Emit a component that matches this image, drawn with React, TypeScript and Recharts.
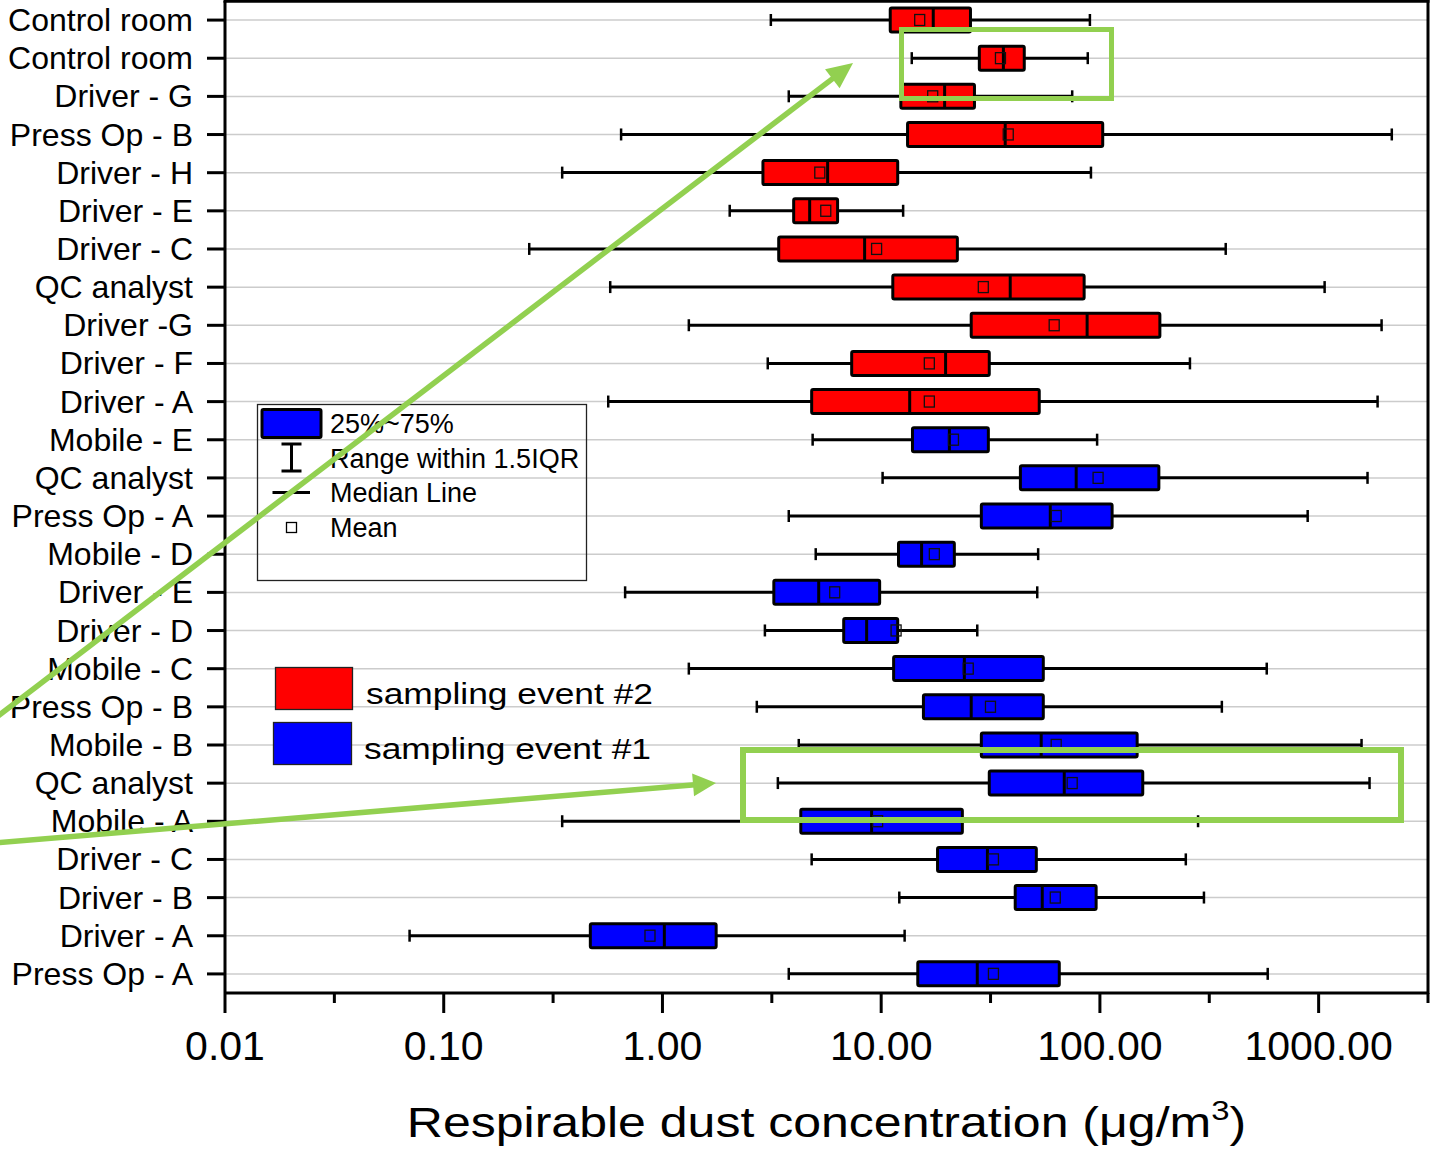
import React from 'react';
import { ComposedChart, Bar, XAxis, YAxis, CartesianGrid } from 'recharts';

// ---------- data (top row first) ----------
const categories = [
  'Control room', 'Control room', 'Driver - G', 'Press Op - B', 'Driver - H', 'Driver - E',
  'Driver - C', 'QC analyst', 'Driver -G', 'Driver - F', 'Driver - A', 'Mobile - E',
  'QC analyst', 'Press Op - A', 'Mobile - D', 'Driver - E', 'Driver - D', 'Mobile - C',
  'Press Op - B', 'Mobile - B', 'QC analyst', 'Mobile - A', 'Driver - C', 'Driver - B',
  'Driver - A', 'Press Op - A',
];
const samplingEvent = [2, 2, 2, 2, 2, 2, 2, 2, 2, 2, 2, 1, 1, 1, 1, 1, 1, 1, 1, 1, 1, 1, 1, 1, 1, 1];
const whiskerLow = [3.13, 13.8, 3.78, 0.647, 0.348, 2.03, 0.246, 0.577, 1.32, 3.03, 0.565, 4.86, 10.15, 3.78, 5.02, 0.675, 2.94, 1.32, 2.7, 4.2, 3.37, 0.348, 4.81, 12.1, 0.0698, 3.78];
const q1 = [11.0, 28.1, 12.3, 13.2, 2.88, 3.98, 3.4, 11.3, 25.8, 7.33, 4.81, 13.9, 43.3, 28.7, 12.0, 3.23, 6.74, 11.4, 15.6, 28.7, 31.2, 4.29, 18.1, 41.0, 0.468, 14.7];
const median = [17.3, 36.2, 19.5, 36.9, 5.69, 4.71, 8.4, 38.9, 87.4, 19.7, 13.5, 20.5, 77.9, 59.3, 15.3, 5.18, 8.58, 24.0, 25.8, 53.9, 68.7, 9.04, 30.6, 54.5, 1.02, 27.5];
const q3 = [25.6, 45.1, 26.7, 103, 11.9, 6.32, 22.3, 84.7, 188, 31.2, 52.8, 30.9, 186, 113.7, 21.6, 9.84, 11.9, 55.1, 55.1, 148, 157, 23.5, 51.2, 96.1, 1.76, 65.2];
const whiskerHigh = [90, 88, 74.7, 2160, 91, 12.6, 376, 1065, 1940, 258, 1860, 97.1, 1673, 891, 52.2, 51.7, 27.5, 579, 361, 1571, 1709, 281, 247, 299, 12.8, 585];
const mean = [15.0, 35.1, 17.2, 38.1, 5.24, 5.58, 9.53, 29.3, 61.8, 16.6, 16.6, 21.4, 98.1, 63.1, 17.5, 6.13, 11.7, 25.0, 31.6, 63.1, 74.7, 9.63, 32.6, 62.5, 0.877, 32.6];

const X_MIN = 0.01;
const X_MAX = 3162.2777;
const xTicks = [0.01, 0.0316228, 0.1, 0.316228, 1, 3.16228, 10, 31.6228, 100, 316.228, 1000, 3162.2777];
const xTickLabels = ['0.01', '', '0.10', '', '1.00', '', '10.00', '', '100.00', '', '1000.00', ''];

const eventColors: Record<number, string> = { 1: '#0000FF', 2: '#FF0000' };
const FONT = '"Liberation Sans", Arial, Helvetica, sans-serif';
const GREEN = '#92D050';

const data = categories.map((c, i) => ({
  id: `r${i}`,
  label: c,
  event: samplingEvent[i],
  range: [whiskerLow[i], whiskerHigh[i]],
  lo: whiskerLow[i],
  hi: whiskerHigh[i],
  q1: q1[i],
  median: median[i],
  q3: q3[i],
  mean: mean[i],
}));

// ---------- custom shapes ----------
const BoxShape = (props: any) => {
  const { x, y, width, height, payload } = props;
  if (x == null || y == null || width == null || !payload) return null;
  const l0 = Math.log10(payload.lo);
  const l1 = Math.log10(payload.hi);
  const pos = (v: number) => x + (width * (Math.log10(v) - l0)) / (l1 - l0);
  const cy = y + height / 2;
  const fill = eventColors[payload.event];
  const xq1 = pos(payload.q1);
  const xq3 = pos(payload.q3);
  const xmed = pos(payload.median);
  const xmean = pos(payload.mean);
  return (
    <g>
      <line x1={x} x2={x + width} y1={cy} y2={cy} stroke="#000" strokeWidth={3} />
      <line x1={x} x2={x} y1={cy - 6} y2={cy + 6} stroke="#000" strokeWidth={2.5} />
      <line x1={x + width} x2={x + width} y1={cy - 6} y2={cy + 6} stroke="#000" strokeWidth={2.5} />
      <rect x={xq1} y={y} width={xq3 - xq1} height={height} fill={fill} stroke="#000" strokeWidth={3} rx={1.5} />
      <line x1={xmed} x2={xmed} y1={y} y2={y + height} stroke="#000" strokeWidth={3} />
      <rect x={xmean - 5} y={cy - 5.5} width={10} height={11} fill="none" stroke="#111" strokeWidth={1.3} />
    </g>
  );
};

const XTick = (props: any) => {
  const { x, y, payload } = props;
  const v = payload.value;
  let idx = xTicks.findIndex((t) => Math.abs(Math.log10(t) - Math.log10(v)) < 1e-4);
  if (idx < 0) idx = 1;
  const major = idx % 2 === 0;
  return (
    <g>
      <line x1={x} x2={x} y1={y} y2={y + (major ? 20 : 10)} stroke="#000" strokeWidth={3} />
      {major && (
        <text x={x} y={y + 67} textAnchor="middle" fontSize={41} fontFamily={FONT} fill="#000">
          {xTickLabels[idx]}
        </text>
      )}
    </g>
  );
};

const YTick = (props: any) => {
  const { x, y, index } = props;
  return (
    <text x={x} y={y} dy={11} textAnchor="end" fontSize={32} fontFamily={FONT} fill="#000">
      {categories[index]}
    </text>
  );
};

const TitleLabel = (props: any) => {
  const vb = props.viewBox || { x: 225, y: 993, width: 1203, height: 161 };
  const cx = vb.x + vb.width / 2;
  const by = vb.y + 144;
  return (
    <g transform={`translate(${cx},${by}) scale(1.22,1.04)`}>
      <text x={0} y={0} textAnchor="middle" fontSize={41} fontFamily={FONT} fill="#000">
        Respirable dust concentration (μg/m
        <tspan fontSize={27} dy={-16}>3</tspan>
        <tspan dy={16}>)</tspan>
      </text>
    </g>
  );
};

// ---------- overlay: frame, legends + annotation arrows ----------
const arrow = (x1: number, y1: number, tx: number, ty: number, len: number, w: number, sw: number) => {
  const dx = tx - x1;
  const dy = ty - y1;
  const d = Math.hypot(dx, dy);
  const ux = dx / d;
  const uy = dy / d;
  const bx = tx - ux * len;
  const by = ty - uy * len;
  const nx = -uy;
  const ny = ux;
  const pts = `${tx},${ty} ${bx + (nx * w) / 2},${by + (ny * w) / 2} ${bx - (nx * w) / 2},${by - (ny * w) / 2}`;
  return (
    <g>
      <line x1={x1} y1={y1} x2={bx + ux * 2} y2={by + uy * 2} stroke={GREEN} strokeWidth={sw} />
      <polygon points={pts} fill={GREEN} />
    </g>
  );
};

const Overlay = () => (
  <svg
    width={1435}
    height={1154}
    style={{ position: 'absolute', left: 0, top: 0, pointerEvents: 'none' }}
  >
    {/* plot frame: top and right edges */}
    <line x1={223.5} x2={1429.5} y1={1.3} y2={1.3} stroke="#000" strokeWidth={3} />
    <line x1={1428} x2={1428} y1={0} y2={994} stroke="#000" strokeWidth={3} />

    {/* statistic legend */}
    <rect x={257.5} y={404.5} width={329} height={176} fill="none" stroke="#222" strokeWidth={1.3} />
    <rect x={262} y={409.5} width={59} height={28} fill="#0000FF" stroke="#000" strokeWidth={3} rx={1.5} />
    <text x={330} y={433} fontSize={27} fontFamily={FONT} fill="#000">25%~75%</text>
    <line x1={291.5} x2={291.5} y1={443} y2={472} stroke="#000" strokeWidth={3} />
    <line x1={281.5} x2={301.5} y1={444} y2={444} stroke="#000" strokeWidth={3} />
    <line x1={281.5} x2={301.5} y1={471} y2={471} stroke="#000" strokeWidth={3} />
    <text x={330} y={467.5} fontSize={27} fontFamily={FONT} fill="#000">Range within 1.5IQR</text>
    <line x1={272.5} x2={310} y1={492.5} y2={492.5} stroke="#000" strokeWidth={3} />
    <text x={330} y={502} fontSize={27} fontFamily={FONT} fill="#000">Median Line</text>
    <rect x={286.5} y={522.5} width={10} height={10} fill="#fff" stroke="#000" strokeWidth={1.3} />
    <text x={330} y={537} fontSize={27} fontFamily={FONT} fill="#000">Mean</text>

    {/* event legend */}
    <rect x={275.5} y={667.5} width={77} height={42} fill="#FF0000" stroke="#222" strokeWidth={1.3} />
    <g transform="translate(366,703.5) scale(1.22,1.04)">
      <text x={0} y={0} fontSize={29} fontFamily={FONT} fill="#000">sampling event #2</text>
    </g>
    <rect x={273.5} y={722.5} width={78} height={42} fill="#0000FF" stroke="#222" strokeWidth={1.3} />
    <g transform="translate(364,758.5) scale(1.22,1.04)">
      <text x={0} y={0} fontSize={29} fontFamily={FONT} fill="#000">sampling event #1</text>
    </g>

    {/* annotations */}
    <rect x={901.5} y={29.5} width={210} height={69} fill="none" stroke={GREEN} strokeWidth={5} />
    <rect x={743} y={750} width={658} height={70} fill="none" stroke={GREEN} strokeWidth={6} />
    {arrow(-6, 719, 853, 63, 26, 24, 5.5)}
    {arrow(-6, 843, 716, 783, 23, 23, 5.5)}
  </svg>
);

export default function App() {
  return (
    <div style={{ position: 'absolute', left: 0, top: 0, width: 1435, height: 1154, background: '#fff' }}>
      <ComposedChart
        width={1435}
        height={1154}
        data={data}
        layout="vertical"
        margin={{ top: 1, right: 7, bottom: 0, left: 0 }}
        barCategoryGap={0}
      >
        <CartesianGrid horizontal vertical={false} stroke="#cccccc" strokeWidth={1.5} />
        <XAxis
          type="number"
          scale="log"
          domain={[X_MIN, X_MAX]}
          allowDataOverflow
          ticks={xTicks}
          interval={0}
          height={161}
          tickSize={0}
          tickMargin={0}
          tickLine={false}
          tick={<XTick />}
          axisLine={{ stroke: '#000', strokeWidth: 3 }}
          label={<TitleLabel />}
        />
        <YAxis
          type="category"
          dataKey="id"
          width={225}
          interval={0}
          tickSize={18}
          tickMargin={14}
          tickLine={{ stroke: '#000', strokeWidth: 3 }}
          axisLine={{ stroke: '#000', strokeWidth: 3 }}
          tick={<YTick />}
        />
        <Bar dataKey="range" barSize={24} shape={<BoxShape />} isAnimationActive={false} />
      </ComposedChart>
      <Overlay />
    </div>
  );
}
